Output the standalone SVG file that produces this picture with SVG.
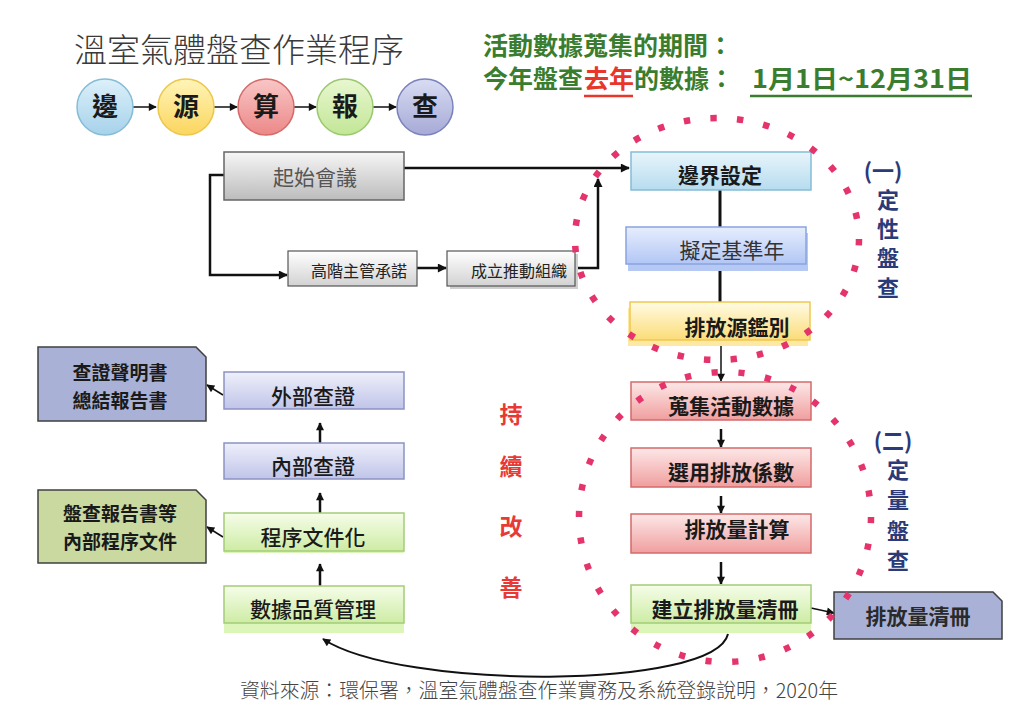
<svg xmlns="http://www.w3.org/2000/svg" width="1024" height="723" viewBox="0 0 1024 723">
<defs>
<linearGradient id="gGray" x1="0" y1="0" x2="0" y2="1"><stop offset="0" stop-color="#f6f6f6"/><stop offset="1" stop-color="#bcbcbc"/></linearGradient>
<linearGradient id="gGray2" x1="0" y1="0" x2="0" y2="1"><stop offset="0" stop-color="#ffffff"/><stop offset="1" stop-color="#d2d2d2"/></linearGradient>
<linearGradient id="gBlue" x1="0" y1="0" x2="0" y2="1"><stop offset="0" stop-color="#e8f5fb"/><stop offset="1" stop-color="#b6dcef"/></linearGradient>
<linearGradient id="gPeri" x1="0" y1="0" x2="0" y2="1"><stop offset="0" stop-color="#e6eefd"/><stop offset="1" stop-color="#b2c6f5"/></linearGradient>
<linearGradient id="gYel" x1="0" y1="0" x2="0" y2="1"><stop offset="0" stop-color="#fffbe4"/><stop offset="1" stop-color="#fcdc78"/></linearGradient>
<linearGradient id="gRed" x1="0" y1="0" x2="0" y2="1"><stop offset="0" stop-color="#fde8e8"/><stop offset="1" stop-color="#f09e9e"/></linearGradient>
<linearGradient id="gGrn" x1="0" y1="0" x2="0" y2="1"><stop offset="0" stop-color="#f6fde9"/><stop offset="1" stop-color="#cdeca4"/></linearGradient>
<linearGradient id="gLav" x1="0" y1="0" x2="0" y2="1"><stop offset="0" stop-color="#eef0fb"/><stop offset="1" stop-color="#c0c4e8"/></linearGradient>
<linearGradient id="cBlue" x1="0" y1="0" x2="0" y2="1"><stop offset="0" stop-color="#dcf0fa"/><stop offset="1" stop-color="#a6d2ea"/></linearGradient>
<linearGradient id="cYel" x1="0" y1="0" x2="0" y2="1"><stop offset="0" stop-color="#fff4b8"/><stop offset="1" stop-color="#fbd65e"/></linearGradient>
<linearGradient id="cRed" x1="0" y1="0" x2="0" y2="1"><stop offset="0" stop-color="#f9c6c6"/><stop offset="1" stop-color="#ec8888"/></linearGradient>
<linearGradient id="cGrn" x1="0" y1="0" x2="0" y2="1"><stop offset="0" stop-color="#e8f7d0"/><stop offset="1" stop-color="#c2e696"/></linearGradient>
<linearGradient id="cPur" x1="0" y1="0" x2="0" y2="1"><stop offset="0" stop-color="#d8dcf2"/><stop offset="1" stop-color="#a6aad6"/></linearGradient>
<marker id="ah" viewBox="0 0 10 10" refX="9" refY="5" markerWidth="10" markerHeight="9" markerUnits="userSpaceOnUse" orient="auto"><path d="M0,0 L10,5 L0,10 Z" fill="#111"/></marker>
<marker id="ahs" viewBox="0 0 10 10" refX="9" refY="5" markerWidth="9" markerHeight="8" markerUnits="userSpaceOnUse" orient="auto"><path d="M0,0 L10,5 L0,10 Z" fill="#111"/></marker>
</defs>
<style>
text{font-family:"Noto Sans CJK TC","Noto Sans CJK SC",sans-serif;}
.bt{font-size:21px;font-weight:700;fill:#1a1a1a;text-anchor:middle;}
.nt{font-size:19px;font-weight:700;fill:#1a1a1a;text-anchor:middle;}
.rt{font-size:21px;font-weight:400;fill:#333;text-anchor:middle;}
.ct{font-size:26px;font-weight:700;fill:#1a1a1a;text-anchor:middle;}
.st{font-size:16px;font-weight:400;fill:#222;text-anchor:middle;}
.nv{font-size:22px;font-weight:700;fill:#2b3a78;text-anchor:middle;}
.rd{font-size:23px;font-weight:700;fill:#e83a34;text-anchor:middle;}
.gr{font-size:25px;font-weight:700;fill:#3b7d2e;}
.ln{fill:none;stroke:#111;}
.dots{fill:none;stroke:#e5336b;stroke-width:6.5;}
</style>
<rect width="1024" height="723" fill="#ffffff"/>

<text x="74" y="62" style="font-size:33px;font-weight:300;fill:#3a3a3a;">溫室氣體盤查作業程序</text>

<g id="header">
<text class="gr" x="483" y="55">活動數據蒐集的期間：</text>
<text class="gr" x="483" y="88">今年盤查</text>
<text class="gr" x="584" y="88" style="fill:#e8372a;">去年</text>
<text class="gr" x="634" y="88">的數據：</text>
<text class="gr" x="752" y="88" textLength="220" lengthAdjust="spacingAndGlyphs">1月1日~12月31日</text>
<line x1="584" y1="96" x2="633" y2="96" stroke="#e8372a" stroke-width="2.5"/>
<line x1="750" y1="96" x2="972" y2="96" stroke="#3b7d2e" stroke-width="2.5"/>
</g>

<g id="connectors">
<line class="ln" x1="133" y1="107" x2="156" y2="107" stroke-width="1.5" marker-end="url(#ahs)"/>
<line class="ln" x1="214" y1="107" x2="237" y2="107" stroke-width="1.5" marker-end="url(#ahs)"/>
<line class="ln" x1="294" y1="107" x2="316" y2="107" stroke-width="1.5" marker-end="url(#ahs)"/>
<line class="ln" x1="373" y1="107" x2="396" y2="107" stroke-width="1.5" marker-end="url(#ahs)"/>
<line class="ln" x1="404" y1="168" x2="629" y2="168" stroke-width="2.5" marker-end="url(#ah)"/>
<polyline class="ln" points="224,175 210,175 210,275 287,275" stroke-width="2.5" marker-end="url(#ah)"/>
<line class="ln" x1="417" y1="268" x2="446" y2="268" stroke-width="2.5" marker-end="url(#ah)"/>
<polyline class="ln" points="575,268 598,268 598,179" stroke-width="2.5" marker-end="url(#ah)"/>
<line class="ln" x1="720" y1="190" x2="720" y2="227" stroke-width="3"/>
<line class="ln" x1="720" y1="264" x2="720" y2="302" stroke-width="3"/>
<line class="ln" x1="721" y1="346" x2="721" y2="381" stroke-width="1.5" marker-end="url(#ahs)"/>
<line class="ln" x1="721" y1="429" x2="721" y2="447" stroke-width="2.5" marker-end="url(#ahs)"/>
<line class="ln" x1="721" y1="496" x2="721" y2="513" stroke-width="2.5" marker-end="url(#ahs)"/>
<line class="ln" x1="721" y1="562" x2="721" y2="584" stroke-width="2.5" marker-end="url(#ahs)"/>
<line class="ln" x1="811" y1="608" x2="834" y2="613" stroke-width="1.5" marker-end="url(#ahs)"/>
<path class="ln" d="M728,634 C715,690 400,690 323,639" stroke-width="2" marker-end="url(#ahs)"/>
<line class="ln" x1="320" y1="443" x2="320" y2="423" stroke-width="2.5" marker-end="url(#ahs)"/>
<line class="ln" x1="320" y1="513" x2="320" y2="493" stroke-width="2.5" marker-end="url(#ahs)"/>
<line class="ln" x1="320" y1="586" x2="320" y2="564" stroke-width="2.5" marker-end="url(#ahs)"/>
<line class="ln" x1="223" y1="395" x2="207" y2="385" stroke-width="1.5" marker-end="url(#ahs)"/>
<line class="ln" x1="223" y1="537" x2="207" y2="527" stroke-width="1.5" marker-end="url(#ahs)"/>
</g>

<g id="c-bian"><circle cx="105" cy="107" r="28" fill="url(#cBlue)" stroke="#86bcd6" stroke-width="1.5"/><text class="ct" x="105" y="116">邊</text></g>
<g id="c-yuan"><circle cx="186" cy="107" r="28" fill="url(#cYel)" stroke="#ecc74c" stroke-width="1.5"/><text class="ct" x="186" y="116">源</text></g>
<g id="c-suan"><circle cx="266" cy="107" r="28" fill="url(#cRed)" stroke="#d46a6a" stroke-width="1.5"/><text class="ct" x="266" y="116">算</text></g>
<g id="c-bao"><circle cx="345" cy="107" r="28" fill="url(#cGrn)" stroke="#9cc870" stroke-width="1.5"/><text class="ct" x="345" y="116">報</text></g>
<g id="c-cha"><circle cx="425" cy="107" r="28" fill="url(#cPur)" stroke="#7c82bc" stroke-width="1.5"/><text class="ct" x="425" y="116">查</text></g>

<g id="n-start"><rect x="224" y="152" width="180" height="48" fill="url(#gGray)" stroke="#666" stroke-width="1.5"/><text class="rt" x="315" y="185" style="fill:#555;">起始會議</text></g>
<g id="n-commit"><rect x="288" y="251" width="129" height="35" fill="url(#gGray2)" stroke="#555" stroke-width="1.2"/><text class="st" x="359" y="277">高階主管承諾</text></g>
<g id="n-team"><rect x="450" y="254" width="128" height="35" fill="#cfcfcf"/><rect x="447" y="251" width="128" height="35" fill="url(#gGray2)" stroke="#555" stroke-width="1.2"/><text class="st" x="519" y="277">成立推動組織</text></g>

<g id="n-boundary"><rect x="631" y="152" width="180" height="38" fill="url(#gBlue)" stroke="#86bcd6" stroke-width="1.5"/><text class="bt" x="720" y="183">邊界設定</text></g>
<g id="n-baseyear"><rect x="628" y="233" width="180" height="38" fill="#b6c9f5"/><rect x="626" y="227" width="180" height="37" fill="url(#gPeri)" stroke="#8aa4e0" stroke-width="1.5"/><text class="rt" x="732" y="258">擬定基準年</text></g>
<g id="n-source"><rect x="628" y="308" width="180" height="38" fill="#fde9a4"/><rect x="630" y="302" width="180" height="38" fill="url(#gYel)" stroke="#f0c850" stroke-width="1.5"/><text class="bt" x="737" y="335">排放源鑑別</text></g>

<g id="n-collect"><rect x="631" y="382" width="180" height="38" fill="url(#gRed)" stroke="#d46a6a" stroke-width="1.5"/><text class="bt" x="731" y="414">蒐集活動數據</text></g>
<g id="n-factor"><rect x="631" y="448" width="180" height="39" fill="url(#gRed)" stroke="#d46a6a" stroke-width="1.5"/><text class="bt" x="731" y="480">選用排放係數</text></g>
<g id="n-calc"><rect x="631" y="514" width="180" height="39" fill="url(#gRed)" stroke="#d46a6a" stroke-width="1.5"/><text class="bt" x="737" y="537">排放量計算</text></g>
<g id="n-inventory"><rect x="631" y="595" width="180" height="38" fill="#dcf5b8"/><rect x="631" y="585" width="180" height="38" fill="url(#gGrn)" stroke="#a4cc78" stroke-width="1.5"/><text class="bt" x="725" y="617">建立排放量清冊</text></g>
<g id="n-inv-doc"><path d="M834,592 H993 L1002,601 V639 H834 Z" fill="#a9b1d6" stroke="#404040" stroke-width="1.5"/><text class="bt" x="918" y="624" style="fill:#2a2a2a;">排放量清冊</text></g>

<g id="n-ext"><rect x="224" y="372" width="180" height="37" fill="url(#gLav)" stroke="#8c92c4" stroke-width="1.5"/><text class="bt" x="313" y="404" style="font-weight:500;">外部查證</text></g>
<g id="n-int"><rect x="224" y="443" width="180" height="36" fill="url(#gLav)" stroke="#8c92c4" stroke-width="1.5"/><text class="bt" x="313" y="474" style="font-weight:500;">內部查證</text></g>
<g id="n-docs"><rect x="224" y="516" width="180" height="37" fill="#dcf5b8"/><rect x="224" y="513" width="180" height="38" fill="url(#gGrn)" stroke="#a4cc78" stroke-width="1.5"/><text class="bt" x="313" y="545" style="font-weight:500;">程序文件化</text></g>
<g id="n-quality"><rect x="224" y="596" width="180" height="37" fill="#dcf5b8"/><rect x="224" y="586" width="180" height="37" fill="url(#gGrn)" stroke="#a4cc78" stroke-width="1.5"/><text class="bt" x="313" y="617" style="font-weight:500;">數據品質管理</text></g>
<g id="n-verify-doc"><path d="M38,347 H196 L206,357 V421 H38 Z" fill="#a9b1d6" stroke="#404040" stroke-width="1.5"/><text class="nt" x="120" y="380">查證聲明書</text><text class="nt" x="120" y="408">總結報告書</text></g>
<g id="n-report-doc"><path d="M38,490 H196 L206,500 V563 H38 Z" fill="#c9d9a0" stroke="#404040" stroke-width="1.5"/><text class="nt" x="120" y="521">盤查報告書等</text><text class="nt" x="120" y="549">內部程序文件</text></g>

<g id="zone-qualitative">
<ellipse class="dots" cx="717" cy="239" rx="142" ry="121" pathLength="310" stroke-dasharray="2.4 7.6"/>
<text class="nv" x="883" y="179">(一)</text>
<text class="nv" x="888" y="208">定</text>
<text class="nv" x="888" y="237">性</text>
<text class="nv" x="888" y="266">盤</text>
<text class="nv" x="888" y="296">查</text>
</g>
<g id="zone-quantitative">
<ellipse class="dots" cx="725" cy="517" rx="146" ry="145" pathLength="340" stroke-dasharray="2.3 7.7"/>
<text class="nv" x="893" y="449">(二)</text>
<text class="nv" x="898" y="478">定</text>
<text class="nv" x="898" y="508">量</text>
<text class="nv" x="898" y="539">盤</text>
<text class="nv" x="898" y="569">查</text>
</g>

<g id="improve">
<text class="rd" x="511" y="423">持</text>
<text class="rd" x="511" y="475">續</text>
<text class="rd" x="511" y="535">改</text>
<text class="rd" x="511" y="596">善</text>
</g>

<text x="240" y="698" textLength="598" lengthAdjust="spacingAndGlyphs" style="font-size:20px;font-weight:300;fill:#444;">資料來源：環保署，溫室氣體盤查作業實務及系統登錄說明，2020年</text>
</svg>
